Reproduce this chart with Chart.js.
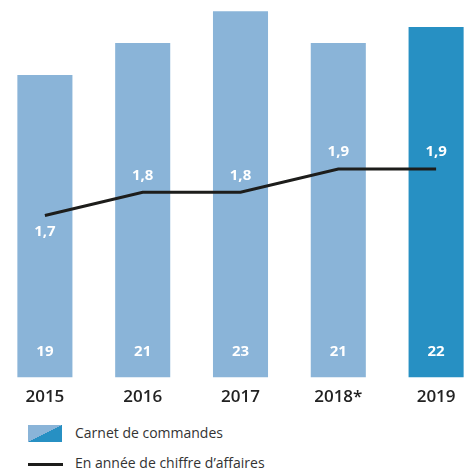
<!DOCTYPE html>
<html lang="fr">
<head>
<meta charset="utf-8">
<script src="https://cdn.jsdelivr.net/npm/chart.js@4"></script>
<style>
  html, body { margin: 0; padding: 0; background: #fff; }
  body { width: 465px; height: 470px; position: relative; overflow: hidden; font-family: "Open Sans", sans-serif; }
  #wrap { position: absolute; left: -4.4px; top: 0; width: 489px; height: 416px; }
  .legend { position: absolute; left: 28px; font-size: 14px; color: #333; }
  .legend span { position: absolute; left: 47px; white-space: nowrap; line-height: 18px; top: -9px; }
  .swatch { position: absolute; left: 0; }
  #lg1 { top: 433px; }
  #lg1 .swatch { top: -8px; width: 34px; height: 17px; background: linear-gradient(to bottom right, #8ab4d8 50%, #2790c3 50%); }
  #lg2 { top: 463px; }
  #lg2 .swatch { top: 0; width: 35px; height: 3px; background: #1d1d1b; }
</style>
</head>
<body>
<div id="wrap"><canvas id="jsChart"></canvas></div>
<div class="legend" id="lg1"><div class="swatch"></div><span>Carnet de commandes</span></div>
<div class="legend" id="lg2"><div class="swatch"></div><span>En année de chiffre d’affaires</span></div>

<script>
// Années, carnet de commandes et équivalent en années de chiffre d'affaires
const years = ['2015', '2016', '2017', '2018*', '2019'];
const carnet = [19, 21, 23, 21, 22];
const anneesCA = [1.7, 1.8, 1.8, 1.9, 1.9];

const barColors = ['#8ab4d8', '#8ab4d8', '#8ab4d8', '#8ab4d8', '#2790c3'];

const fmt = (v) => String(v).replace('.', ',');

// Valeurs écrites en blanc sur les barres et au-dessus de la courbe
const valueLabels = {
  id: 'valueLabels',
  afterDatasetsDraw(chart) {
    const ctx = chart.ctx;
    ctx.save();
    ctx.fillStyle = '#fff';
    ctx.font = '700 15px "Open Sans"';
    ctx.textAlign = 'center';
    ctx.textBaseline = 'middle';

    const bars = chart.getDatasetMeta(1);
    bars.data.forEach((bar, i) => {
      ctx.fillText(fmt(carnet[i]), bar.x, bar.base - 26);
    });

    const line = chart.getDatasetMeta(0);
    line.data.forEach((pt, i) => {
      const dy = i === 0 ? 16 : -17;
      ctx.fillText(fmt(anneesCA[i]), pt.x, pt.y + dy);
    });
    ctx.restore();
  }
};

const ctx = document.getElementById('jsChart');

new Chart(ctx, {
  data: {
    labels: years,
    datasets: [
      {
        type: 'line',
        label: 'En année de chiffre d’affaires',
        data: anneesCA,
        yAxisID: 'y2',
        borderColor: '#1d1d1b',
        borderWidth: 3,
        pointRadius: 0,
        tension: 0,
        order: 0,
      },
      {
        type: 'bar',
        label: 'Carnet de commandes',
        data: carnet,
        yAxisID: 'y',
        backgroundColor: barColors,
        borderWidth: 0,
        categoryPercentage: 1,
        barPercentage: 0.563,
        order: 1,
      },
    ],
  },
  options: {
    responsive: true,
    maintainAspectRatio: false,
    animation: false,
    layout: { padding: 0 },
    plugins: {
      legend: { display: false },
      tooltip: { enabled: false },
    },
    scales: {
      x: {
        grid: { display: false, drawTicks: false },
        border: { display: false },
        ticks: {
          color: '#222',
          padding: 9,
          font: { family: 'Open Sans', size: 17, weight: '600' },
        },
      },
      y: { display: false, min: 0, max: 23.7 },
      y2: { display: false, min: 1.0, max: 2.63 },
    },
  },
  plugins: [valueLabels],
});
</script>
</body>
</html>
